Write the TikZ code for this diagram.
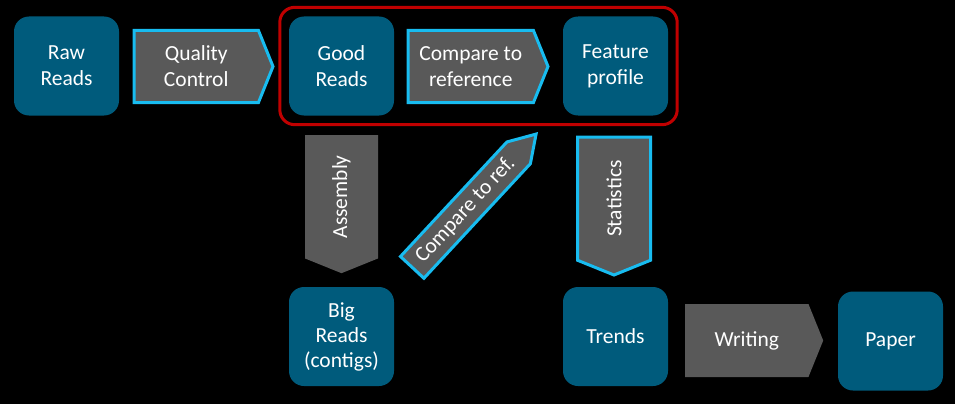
\documentclass[tikz,border=0pt]{standalone}
\usepackage{fontspec}
\setmainfont{Carlito}
\usetikzlibrary{shapes.symbols,fit}
\definecolor{boxteal}{RGB}{0,91,124}
\definecolor{stepgray}{RGB}{89,89,89}
\definecolor{edgeblue}{RGB}{24,188,240}
\definecolor{ringred}{RGB}{192,0,0}
\def\txt{\fontsize{21.5}{26}\selectfont}

\begin{document}
\begin{tikzpicture}[x=1pt,y=-1pt,
    every node/.style={text=white,font=\txt,align=center,inner sep=0pt},
    box/.style={fill=boxteal,rounded corners=15pt,minimum width=105pt,minimum height=99pt},
    chevron/.style={shape=signal,fill=stepgray,signal to=east,signal pointer angle=136,
        minimum width=139pt,minimum height=72pt},
    lined/.style={draw=edgeblue,line width=3pt}]
    \fill[black] (0,0) rectangle (955,404);
    % boxes
    \node[box] (raw)   at (66.5,66)    {Raw\\Reads};
    \node[box] (good)  at (341.5,66)   {Good\\Reads};
    \node[box] (feat)  at (615.5,66)   {Feature\\profile};
    \node[box,font=\fontsize{21.5}{25}\selectfont] (big) at (341.5,336.5) {Big\\Reads\\(contigs)};
    \node[box] (trend) at (615.5,336.5) {Trends};
    \node[box] (paper) at (890.5,341)  {Paper};
    % steps
    \node[chevron,lined,anchor=west] (qc)  at (132.5,66.5) {Quality\\Control};
    \node[chevron,lined,anchor=west,minimum width=140pt] (cmp) at (406.5,66.5) {Compare to\\reference};
    \node[chevron,anchor=west,minimum width=138pt,minimum height=73pt] (write) at (685,340.5) {Writing};
    \node[chevron,rotate=90,signal to=west,anchor=east,minimum width=138pt,minimum height=73pt]
        (asm) at (341.5,135) {Assembly};
    \node[chevron,lined,rotate=90,signal to=west,anchor=east,minimum width=138pt,minimum height=73pt]
        (stat) at (614,135.5) {Statistics};
    \node[chevron,lined,rotate=47.1,anchor=east,signal pointer angle=64,minimum width=182pt,minimum height=32pt]
        (ref) at (538,132) {Compare to ref.};
    % group
    \node[draw=ringred,line width=3pt,rounded corners=15pt,fit=(good)(feat),inner sep=9pt] (grp) {};
\end{tikzpicture}
\end{document}
